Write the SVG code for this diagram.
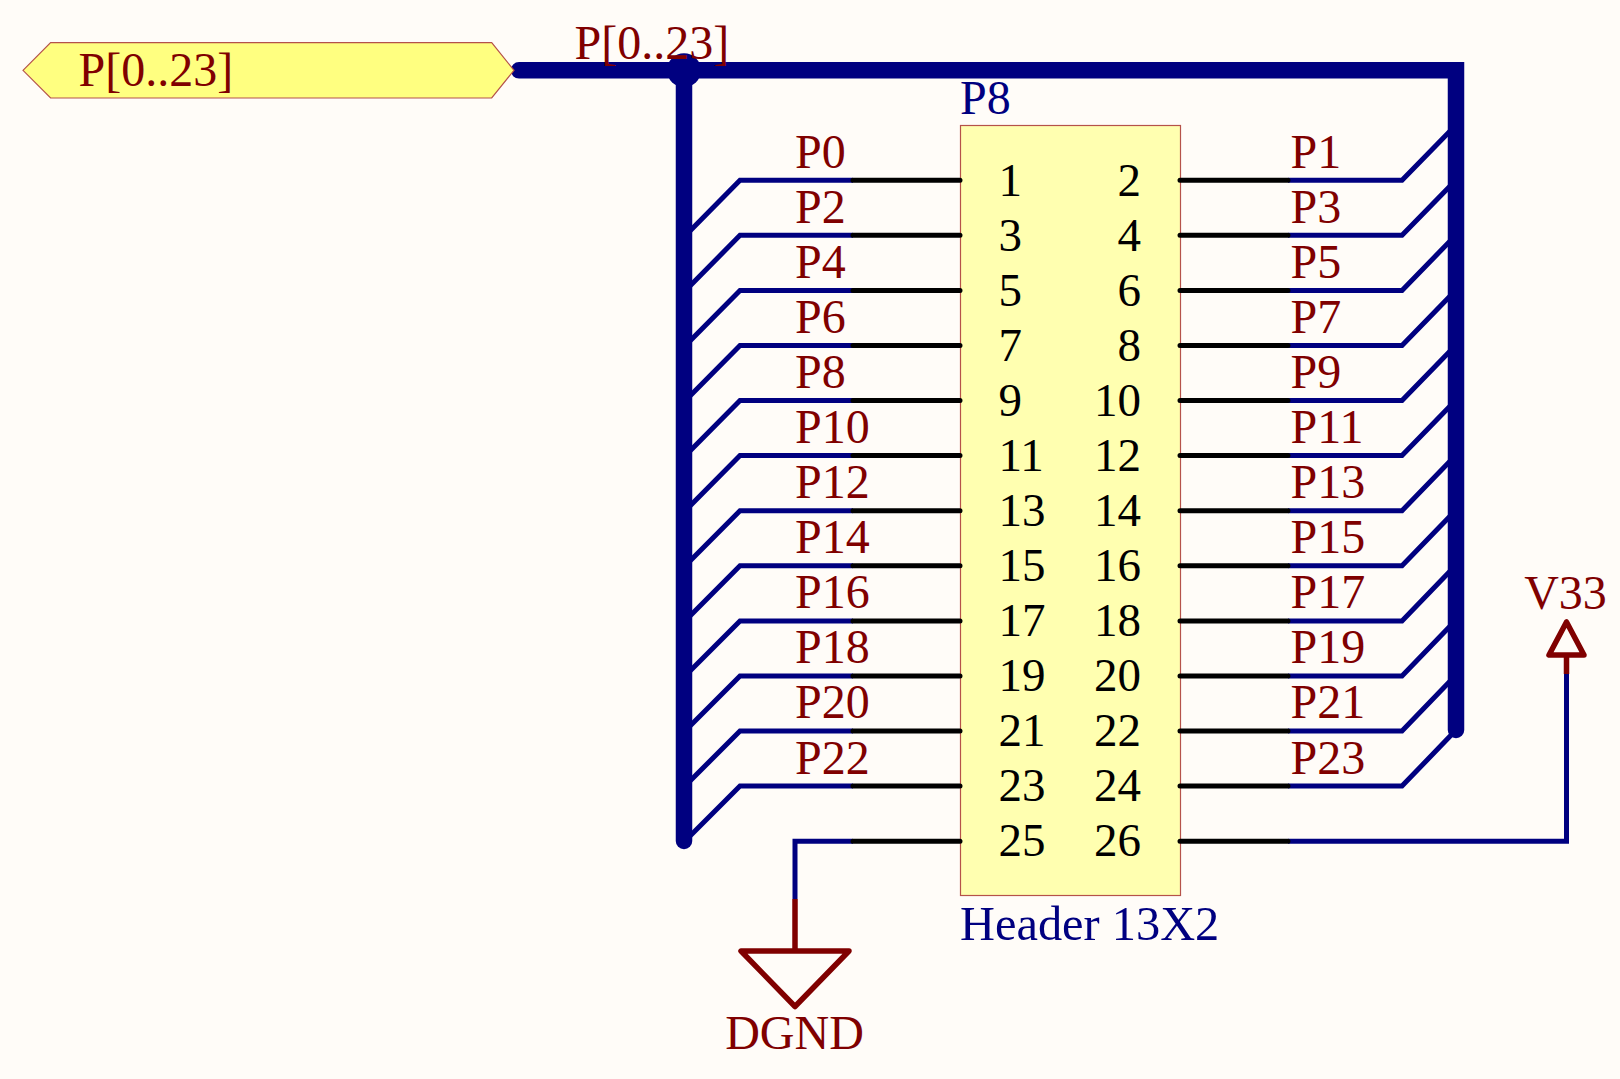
<svg xmlns="http://www.w3.org/2000/svg" width="1620" height="1079" viewBox="0 0 1620 1079">
<style>
text{font-family:"Liberation Serif","Times New Roman",serif;font-size:48px}
.r{fill:#800000}.b{fill:#000080}.k{fill:#000}.k text{font-size:47px}.e{text-anchor:end}.m{text-anchor:middle}
.bus{fill:none;stroke:#000080;stroke-width:16.5;stroke-linecap:round;stroke-linejoin:miter}
.net{fill:none;stroke:#000080;stroke-width:5}
.pin{fill:none;stroke:#000;stroke-width:5;stroke-linecap:round}
.pw{fill:none;stroke:#800000;stroke-width:5.5;stroke-linejoin:round;stroke-linecap:round}
</style>
<rect width="1620" height="1079" fill="#fffcf8"/>
<g id="connectors">
<path class="net" d="M684 237L740 180.2H853M684 292L740 235.3H853M684 347L740 290.4H853M684 402L740 345.5H853M684 457L740 400.5H853M684 512L740 455.6H853M684 567L740 510.7H853M684 622L740 565.8H853M684 677L740 620.9H853M684 732L740 675.9H853M684 787L740 731H853M684 842L740 786.1H853"/>
<path class="net" d="M1456 125L1402 180.2H1288M1456 180L1402 235.3H1288M1456 235L1402 290.4H1288M1456 290L1402 345.5H1288M1456 345L1402 400.5H1288M1456 400L1402 455.6H1288M1456 455L1402 510.7H1288M1456 510L1402 565.8H1288M1456 565L1402 620.9H1288M1456 620L1402 675.9H1288M1456 675L1402 731H1288M1456 730L1402 786.1H1288"/>
<path class="net" d="M853 841.2H795V899"/>
<path class="net" d="M1288 841.2H1566.5V674"/>
<path class="bus" d="M519 70.3H1456V730"/>
<path class="bus" d="M684 70.3V841"/>
<circle cx="684" cy="70.3" r="17" fill="#000080"/>
</g>
<g id="port">
<polygon points="23,70.3 50.6,42.7 491.7,42.7 514,70.3 491.7,98 50.6,98" fill="#ffff80" stroke="#b5524a" stroke-width="1.2"/>
<text class="r" x="78.5" y="86.2">P[0..23]</text>
</g>
<text id="bus-label" class="r" x="574.5" y="59.3">P[0..23]</text>
<g id="P8">
<rect x="960.5" y="125.5" width="220" height="770" fill="#ffffb0" stroke="#b5524a" stroke-width="1.2"/>
<text class="b" x="960" y="113.8">P8</text>
<text class="b" x="960" y="939.5" style="font-size:48.4px">Header 13X2</text>
<path class="pin" d="M853 180.2H960M853 235.3H960M853 290.4H960M853 345.5H960M853 400.5H960M853 455.6H960M853 510.7H960M853 565.8H960M853 620.9H960M853 675.9H960M853 731H960M853 786.1H960M853 841.2H960"/>
<path class="pin" d="M1180 180.2H1288M1180 235.3H1288M1180 290.4H1288M1180 345.5H1288M1180 400.5H1288M1180 455.6H1288M1180 510.7H1288M1180 565.8H1288M1180 620.9H1288M1180 675.9H1288M1180 731H1288M1180 786.1H1288M1180 841.2H1288"/>
<g class="k">
<text x="998.5" y="195.7">1</text><text x="998.5" y="250.7">3</text><text x="998.5" y="305.7">5</text><text x="998.5" y="360.7">7</text><text x="998.5" y="415.7">9</text><text x="998.5" y="471.2">11</text><text x="998.5" y="526.2">13</text><text x="998.5" y="581.2">15</text><text x="998.5" y="636.2">17</text><text x="998.5" y="691.2">19</text><text x="998.5" y="746.2">21</text><text x="998.5" y="801.2">23</text><text x="998.5" y="856.2">25</text>
<text class="e" x="1141" y="195.7">2</text><text class="e" x="1141" y="250.7">4</text><text class="e" x="1141" y="305.7">6</text><text class="e" x="1141" y="360.7">8</text><text class="e" x="1141" y="415.7">10</text><text class="e" x="1141" y="471.2">12</text><text class="e" x="1141" y="526.2">14</text><text class="e" x="1141" y="581.2">16</text><text class="e" x="1141" y="636.2">18</text><text class="e" x="1141" y="691.2">20</text><text class="e" x="1141" y="746.2">22</text><text class="e" x="1141" y="801.2">24</text><text class="e" x="1141" y="856.2">26</text>
</g>
</g>
<g id="net-labels" class="r">
<text x="795" y="168.3">P0</text><text x="795" y="223.3">P2</text><text x="795" y="278.3">P4</text><text x="795" y="333.4">P6</text><text x="795" y="388.2">P8</text><text x="795" y="443.1">P10</text><text x="795" y="498.2">P12</text><text x="795" y="553.2">P14</text><text x="795" y="608.2">P16</text><text x="795" y="663.2">P18</text><text x="795" y="718.4">P20</text><text x="795" y="774">P22</text>
<text x="1290.5" y="168.3">P1</text><text x="1290.5" y="223.3">P3</text><text x="1290.5" y="278.3">P5</text><text x="1290.5" y="333.4">P7</text><text x="1290.5" y="388.2">P9</text><text x="1290.5" y="443.1">P11</text><text x="1290.5" y="498.2">P13</text><text x="1290.5" y="553.2">P15</text><text x="1290.5" y="608.2">P17</text><text x="1290.5" y="663.2">P19</text><text x="1290.5" y="718.4">P21</text><text x="1290.5" y="774">P23</text>
</g>
<g id="DGND">
<path class="pw" style="stroke-linecap:butt" d="M795 899V951"/>
<path class="pw" d="M741 951H849L795 1006.5Z"/>
<text class="r m" x="794.5" y="1049">DGND</text>
</g>
<g id="V33">
<path class="pw" style="stroke-linecap:butt" d="M1566.5 674V655"/>
<path class="pw" d="M1549 655H1584L1566.5 622Z"/>
<text class="r m" x="1565.5" y="609">V33</text>
</g>
</svg>
